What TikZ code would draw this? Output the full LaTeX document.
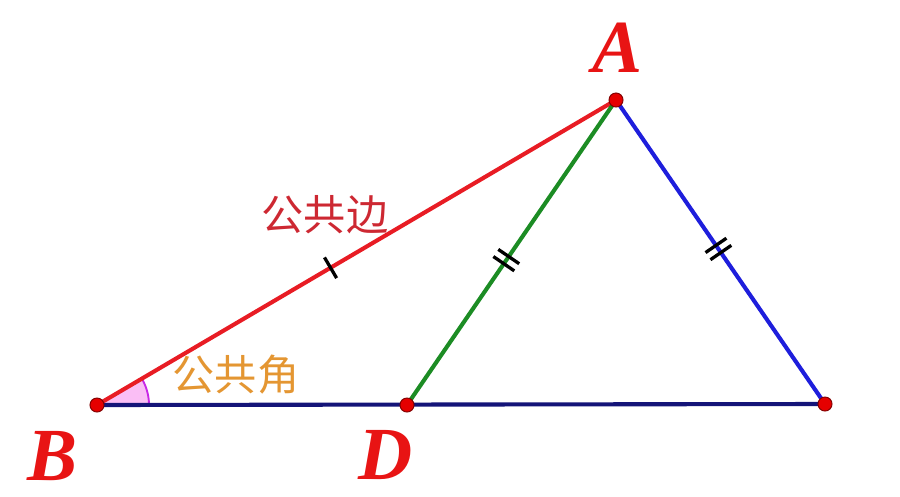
\documentclass[tikz,border=0pt]{standalone}
\usepackage{fontspec}
\setmainfont{Liberation Serif}
\newfontfamily\cjk{Noto Sans CJK SC}
\usetikzlibrary{calc}
\definecolor{segred}{RGB}{232,28,36}
\definecolor{seggreen}{RGB}{28,140,36}
\definecolor{segblue}{RGB}{30,30,220}
\definecolor{segnavy}{RGB}{20,20,120}
\definecolor{lblred}{RGB}{232,20,20}
\definecolor{txtred}{RGB}{205,40,50}
\definecolor{txtorange}{RGB}{228,150,50}
\definecolor{anglefill}{RGB}{250,190,245}
\definecolor{anglepurple}{RGB}{200,40,230}
\tikzset{
  seg/.style={line width=3.5pt},
  ptdot/.style={circle,fill=red!90!black,draw=red!50!black,line width=0.8pt,inner sep=0pt,minimum size=12pt},
  ptlabel/.style={text=lblred,inner sep=0pt,font=\fontsize{64}{68}\selectfont\bfseries\itshape},
  ticks/.style={black,line width=2.8pt},
}
\begin{document}
\begin{tikzpicture}[x=0.03cm,y=-0.03cm]
\useasboundingbox (0,0) rectangle (900,496);
\coordinate (A) at (616,100);
\coordinate (B) at (97,405);
\coordinate (D) at (407,405);
\coordinate (C) at (825,404);
% angle at B
\fill[anglefill] (B) -- ($(B)!1.56cm!(A)$) arc[start angle={atan2(305,519)}, end angle=0, radius=1.56cm] -- cycle;
\draw[anglepurple,line width=1.6pt] ($(B)!1.56cm!(A)$) arc[start angle={atan2(305,519)}, end angle=0, radius=1.56cm];
% segments
\draw[seg,segnavy] (B) -- (C);
\draw[seg,segred] (B) -- (A);
\draw[seg,seggreen] (D) -- (A);
\draw[seg,segblue] (A) -- (C);
% tick marks
\path (B) -- (A) coordinate[pos=0.45] (tAB);
\draw[ticks] ($(tAB)!0.36cm!90:(A)$) -- ($(tAB)!0.36cm!-90:(A)$);
\path (D) -- (A) coordinate[pos=0.475] (tAD);
\coordinate (tAD1) at ($(tAD)!0.13cm!(A)$);
\coordinate (tAD2) at ($(tAD)!-0.13cm!(A)$);
\draw[ticks] ($(tAD1)!0.38cm!90:(A)$) -- ($(tAD1)!0.38cm!-90:(A)$);
\draw[ticks] ($(tAD2)!0.38cm!90:(A)$) -- ($(tAD2)!0.38cm!-90:(A)$);
\path (A) -- (C) coordinate[pos=0.49] (tAC);
\coordinate (tAC1) at ($(tAC)!0.13cm!(C)$);
\coordinate (tAC2) at ($(tAC)!-0.13cm!(C)$);
\draw[ticks] ($(tAC1)!0.38cm!90:(C)$) -- ($(tAC1)!0.38cm!-90:(C)$);
\draw[ticks] ($(tAC2)!0.38cm!90:(C)$) -- ($(tAC2)!0.38cm!-90:(C)$);
% points
\node[ptdot] (pA) at (A) {};
\node[ptdot] (pB) at (B) {};
\node[ptdot] (pD) at (D) {};
\node[ptdot] (pC) at (C) {};
% labels
\node[ptlabel] (lA) at (617,48) {A};
\node[ptlabel] (lB) at (53,456) {B};
\node[ptlabel] (lD) at (386,455) {D};
\node[text=txtred,font=\cjk\fontsize{36}{40}\selectfont] (lside) at (325,215) {公共边};
\node[text=txtorange,font=\cjk\fontsize{36}{40}\selectfont] (langle) at (236,375) {公共角};
\end{tikzpicture}
\end{document}
